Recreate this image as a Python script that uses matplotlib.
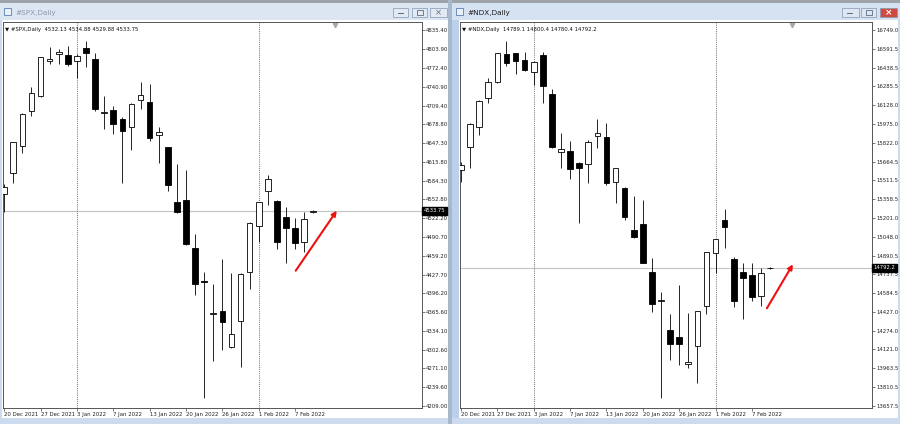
import matplotlib.pyplot as plt
import matplotlib.transforms as mtrans
from matplotlib.patches import Rectangle
import numpy as np

# ---- data ----
spx_open = [4562, 4597.5, 4642.5, 4700.4, 4725.4, 4784.5, 4796, 4793.2, 4784.2, 4805.9,
            4787.6, 4697, 4701.5, 4687, 4674.2, 4718.7, 4715.4, 4660.9, 4639.8, 4548.6,
            4552.5, 4472.5, 4416.9, 4361.4, 4366.9, 4306.9, 4350.3, 4432.4, 4508.6, 4567,
            4550.3, 4523.1, 4504.8, 4482.5, 4532.13]
spx_high = [4578, 4649, 4697.5, 4740.9, 4791, 4806.6, 4803.2, 4809.2, 4795.4, 4817.1,
            4796.5, 4725.4, 4708.7, 4689.9, 4713, 4748.2, 4744.9, 4674.2, 4640, 4611.5,
            4602, 4494.8, 4432.4, 4411.4, 4453.1, 4429.8, 4430, 4515, 4549, 4594.2,
            4552, 4540.8, 4521.5, 4531.5, 4534.88]
spx_low = [4532, 4580.9, 4630.8, 4692.5, 4723.2, 4778.7, 4778.7, 4775.9, 4754.9, 4774.2,
           4701, 4670.4, 4661.5, 4580.8, 4635.3, 4703.2, 4650.3, 4613.2, 4567.5, 4531,
           4477, 4393.6, 4221.4, 4284.1, 4301.9, 4304.7, 4274, 4403.1, 4482.5, 4543.6,
           4470.8, 4446.4, 4470.3, 4464.8, 4529.88]
spx_close = [4574, 4648.2, 4695.4, 4729.9, 4789.9, 4786.5, 4798, 4778.7, 4792, 4796.5,
             4703.2, 4698.5, 4679.2, 4667.5, 4712, 4727.1, 4655.8, 4664.8, 4576.5, 4531.5,
             4478.1, 4411.9, 4415.2, 4362.8, 4349.1, 4328.1, 4428.6, 4513.1, 4548.1, 4587,
             4481.9, 4504.8, 4479.8, 4519.8, 4533.75]

ndx_open = [15597, 15784, 15948, 16187, 16319, 16549, 16557, 16502, 16401, 16543,
            16222, 15747, 15756, 15657, 15644, 15879, 15866, 15501, 15446, 15103,
            15150, 14760, 14516, 14280, 14225, 13998, 14149, 14478, 14916, 15186,
            14865, 14755, 14733, 14560, 14789.1]
ndx_high = [15665, 15986, 16173, 16357, 16562, 16658, 16560, 16565, 16485, 16568,
            16261, 15899, 15836, 15660, 15844, 16014, 15986, 15615, 15459, 15385,
            15350, 14870, 14595, 14409, 14651, 14418, 14440, 14925, 15030, 15274,
            14884, 14829, 14829, 14788, 14800.4]
ndx_low = [15501, 15611, 15885, 16151, 16310, 16453, 16384, 16414, 16296, 16146,
           15780, 15611, 15520, 15158, 15488, 15776, 15474, 15323, 15185, 15040,
           14832, 14431, 13718, 14034, 13992, 13965, 13842, 14409, 14747, 14953,
           14467, 14371, 14521, 14478, 14780.4]
ndx_close = [15638, 15973, 16167, 16319, 16557, 16475, 16496, 16420, 16483, 16291,
             15784, 15770, 15603, 15611, 15830, 15899, 15488, 15611, 15208, 15043,
             14834, 14494, 14524, 14165, 14165, 14014, 14437, 14920, 15027, 15130,
             14521, 14711, 14554, 14747, 14792.2]

date_idx = [0, 4, 8, 12, 16, 20, 24, 28, 32]
date_labels = ['20 Dec 2021', '27 Dec 2021', '3 Jan 2022', '7 Jan 2022', '13 Jan 2022',
               '20 Jan 2022', '26 Jan 2022', '1 Feb 2022', '7 Feb 2022']
separators = [8, 28]

spx_ticks = [4835.40, 4803.90, 4772.40, 4740.90, 4709.40, 4678.80, 4647.30, 4615.80,
             4584.30, 4552.80, 4522.20, 4490.70, 4459.20, 4427.70, 4396.20, 4365.60,
             4334.10, 4302.60, 4271.10, 4239.60, 4209.00]
ndx_ticks = [16749.0, 16591.5, 16438.5, 16285.5, 16128.0, 15975.0, 15822.0, 15664.5,
             15511.5, 15358.5, 15201.0, 15048.0, 14890.5, 14737.5, 14584.5, 14427.0,
             14274.0, 14121.0, 13963.5, 13810.5, 13657.5]

spx_arrow = [(32.07, 4434.1), (36.58, 4534.1)]
ndx_arrow = [(33.64, 14458.8), (36.5, 14820.9)]

W, H = 900, 424
fig = plt.figure(figsize=(9, 4.24), dpi=100)

bg = fig.add_axes([0, 0, 1, 1])
bg.set_xlim(0, W)
bg.set_ylim(H, 0)
bg.axis('off')


def rect(x0, y0, x1, y1, fc, ec='none', lw=0.0, z=1):
    bg.add_patch(Rectangle((x0, y0), x1 - x0, y1 - y0, fc=fc, ec=ec, lw=lw, zorder=z))


# window frames
rect(0, 0, W, H, '#cddbee')
rect(0, 0, W, 2.5, '#9ea3aa')
rect(0, 2.5, 449, 20, '#dce6f2')
rect(452, 2.5, W, 20, '#d5e2f2')
rect(448, 0, 452, H, '#a9b9cd')
rect(452, 20, 459, 418, '#bcd0ea')
rect(2, 20, 447.5, 418, 'white')
rect(459, 20, 898, 418, 'white')

# title bars
for x0, name, col in [(3, '#SPX,Daily', '#8d9aab'), (455, '#NDX,Daily', '#1c1c1c')]:
    rect(x0 + 1, 8, x0 + 8, 15, '#e8f0fa', ec='#5a7fb0', lw=0.6, z=2)
    bg.text(x0 + 12, 12.5, name, fontsize=5.2, color=col, va='center', ha='left')

for bx0, bx1, fc in [(393, 408, '#e3eaf3'), (412, 427, '#e3eaf3'), (430, 447, '#e3eaf3'),
                     (842, 859, '#dde6f1'), (861, 876, '#dde6f1'), (880, 897, '#cf4b40')]:
    rect(bx0, 8, bx1, 17, fc, ec='#8396b0', lw=0.5, z=2)
for bx in [393, 842]:
    rect(bx + 5, 12.8, bx + 11, 14, '#5b6b82', z=3)
for bx in [412, 861]:
    rect(bx + 5, 10.3, bx + 11, 14.8, 'none', ec='#5b6b82', lw=0.6, z=3)
bg.text(438.5, 12.5, '×', fontsize=6, color='#5b6b82', ha='center', va='center', zorder=3)
bg.text(888.5, 12.5, '×', fontsize=6.5, color='white', ha='center', va='center',
        zorder=3, fontweight='bold')


def px_axes(x0, y0, x1, y1):
    return fig.add_axes([x0 / W, 1 - y1 / H, (x1 - x0) / W, (y1 - y0) / H])


def draw_chart(ax, o, h, l, c, ticks, fmt, ylim, xlim, title, arrow):
    o, h, l, c = map(np.asarray, (o, h, l, c))
    x = np.arange(len(o))
    ax.set_facecolor('white')
    ax.vlines(x, l, h, color='black', lw=0.6, zorder=2)
    up = c >= o
    bottom = np.minimum(o, c)
    height = np.abs(c - o)
    ax.bar(x, height, bottom=bottom, width=0.62,
           color=np.where(up, 'white', 'black'), edgecolor='black', lw=0.6, zorder=3)
    ax.axhline(c[-1], color='#c4c4c4', lw=0.8, zorder=1)
    for s in separators:
        ax.axvline(s, color='#707070', lw=0.7, ls=(0, (1, 1.2)), zorder=1)
    ax.set_xlim(*xlim)
    ax.set_ylim(*ylim)
    ax.yaxis.tick_right()
    ax.set_yticks(ticks, [fmt.format(t) for t in ticks])
    ax.set_xticks(date_idx, date_labels, ha='left')
    ax.tick_params(axis='both', labelsize=3.9, length=2, width=0.5, pad=1,
                   color='#444444', labelcolor='#222222')
    for sp in ax.spines.values():
        sp.set_color('#555555')
        sp.set_linewidth(0.7)
    tr = mtrans.blended_transform_factory(ax.transAxes, ax.transData)
    ax.text(1.004, c[-1], fmt.format(c[-1]), transform=tr, fontsize=3.8, color='white',
            va='center', ha='left', clip_on=False, zorder=6,
            bbox=dict(boxstyle='square,pad=0.25', fc='black', ec='black'))
    ax.text(0.005, 0.987, title, transform=ax.transAxes, fontsize=3.9,
            color='#111111', va='top', ha='left')
    trx = mtrans.blended_transform_factory(ax.transData, ax.transAxes)
    ax.plot([36.4], [0.993], marker='v', color='#a8a8a8', ms=3.2, transform=trx,
            clip_on=False)
    ax.annotate('', xy=arrow[1], xytext=arrow[0],
                arrowprops=dict(arrowstyle='-|>', color='#f01010', lw=1.5,
                                mutation_scale=7, shrinkA=0, shrinkB=0),
                annotation_clip=False, zorder=5)


ax1 = px_axes(3, 22, 422, 408)
draw_chart(ax1, spx_open, spx_high, spx_low, spx_close, spx_ticks, '{:.2f}',
           (4205.2, 4848.7), (-0.132, 45.96),
           '\u25bc #SPX,Daily  4532.13 4534.88 4529.88 4533.75', spx_arrow)

ax2 = px_axes(459.5, 22, 872, 408)
draw_chart(ax2, ndx_open, ndx_high, ndx_low, ndx_close, ndx_ticks, '{:.1f}',
           (13638.4, 16814.8), (-0.16, 45.2),
           '\u25bc #NDX,Daily  14789.1 14800.4 14780.4 14792.2', ndx_arrow)

fig.savefig('out.png', dpi=100)
